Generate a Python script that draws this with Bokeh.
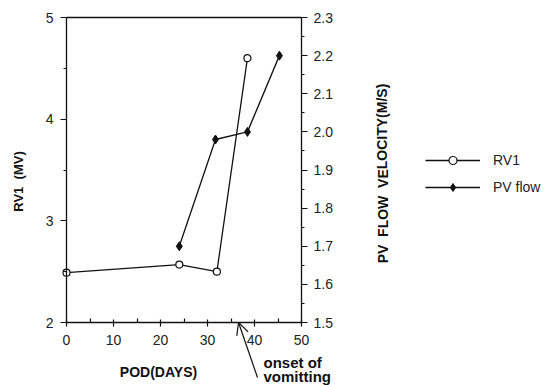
from bokeh.plotting import figure
from bokeh.models import (Range1d, LinearAxis, FixedTicker, Legend, LegendItem,
                          Label, Arrow, OpenHead)
from bokeh.embed import file_html
from bokeh.resources import INLINE

# ---- data ----
rv1_days = [0, 24, 32, 38.5]
rv1_values = [2.49, 2.57, 2.50, 4.60]
pv_days = [24, 31.7, 38.5, 45.3]
pv_values = [1.70, 1.98, 2.00, 2.20]
onset_day = 36.6

x_ticks = [0, 10, 20, 30, 40, 50]
x_minor = [5, 15, 25, 35, 45]
rv1_ticks = [2, 3, 4, 5]
rv1_minor = [2.5, 3.5, 4.5]
pv_ticks = [1.5, 1.6, 1.7, 1.8, 1.9, 2.0, 2.1, 2.2, 2.3]
pv_minor = [1.55, 1.65, 1.75, 1.85, 1.95, 2.05, 2.15, 2.25]

X_LIM = (0, 50)
RV1_LIM = (2, 5)
PV_LIM = (1.5, 2.3)

# ---- layout (canvas pixels) ----
W, H = 554, 385
FL, FR, FT, FB = 66, 301, 17, 322   # plot box edges


def expand(lo, hi, a, b, total):
    """data range whose [lo,hi] maps onto pixels [a,b] of a 0..total canvas"""
    per = (hi - lo) / (b - a)
    return Range1d(lo - a * per, hi + (total - b) * per)


xr = expand(X_LIM[0], X_LIM[1], FL, FR, W)
yr = expand(RV1_LIM[0], RV1_LIM[1], H - FB, H - FT, H)
pr = expand(PV_LIM[0], PV_LIM[1], H - FB, H - FT, H)

FONT = "Liberation Sans"
INK = "#111111"
NB = "\u00a0"

p = figure(width=W, height=H, output_backend="svg", toolbar_location=None,
           x_range=xr, y_range=yr, min_border=0,
           min_border_left=0, min_border_right=0, min_border_top=0,
           min_border_bottom=0)
p.extra_y_ranges = {"pv": pr}
p.grid.visible = False
p.outline_line_color = None
p.background_fill_color = "white"
p.border_fill_color = "white"

# x axis
xa = p.xaxis[0]
xa.fixed_location = RV1_LIM[0]
xa.bounds = X_LIM
xa.ticker = FixedTicker(ticks=x_ticks, minor_ticks=x_minor)
xa.major_tick_in = 3
xa.major_tick_out = 4
xa.minor_tick_in = 4
xa.minor_tick_out = 0
xa.major_label_standoff = 8

# left y axis
ya = p.yaxis[0]
ya.fixed_location = X_LIM[0]
ya.bounds = RV1_LIM
ya.ticker = FixedTicker(ticks=rv1_ticks, minor_ticks=rv1_minor)
ya.major_tick_in = 0
ya.major_tick_out = 6
ya.minor_tick_in = 0
ya.minor_tick_out = 3
ya.major_label_standoff = 7

# right y axis
ra = LinearAxis(y_range_name="pv", fixed_location=X_LIM[1], bounds=PV_LIM,
                ticker=FixedTicker(ticks=pv_ticks, minor_ticks=pv_minor))
ra.major_label_overrides = {t: f"{t:.1f}" for t in pv_ticks}
ra.major_tick_in = 0
ra.major_tick_out = 6
ra.minor_tick_in = 0
ra.minor_tick_out = 3
ra.major_label_standoff = 6
p.add_layout(ra, "right")

# top border of the box
ta = LinearAxis(fixed_location=RV1_LIM[1], bounds=X_LIM,
                ticker=FixedTicker(ticks=[]), major_tick_out=0, major_tick_in=0,
                minor_tick_out=0, minor_tick_in=0,
                major_label_text_font_size="0px")
p.add_layout(ta, "above")

for ax in (xa, ya, ra, ta):
    ax.axis_line_color = INK
    ax.axis_line_width = 1.3
    ax.major_tick_line_color = INK
    ax.minor_tick_line_color = INK
    ax.major_tick_line_width = 1.2
    ax.minor_tick_line_width = 1.2
    ax.major_label_text_font = FONT
    ax.major_label_text_color = "#222222"
for ax in (xa, ya, ra):
    ax.major_label_text_font_size = "14px"

# series
l1 = p.line(rv1_days, rv1_values, line_color=INK, line_width=1.3)
m1 = p.scatter(rv1_days, rv1_values, marker="circle", size=7,
               fill_color="white", line_color=INK, line_width=1.2)
l2 = p.line(pv_days, pv_values, y_range_name="pv", line_color=INK, line_width=1.3)
m2 = p.scatter(pv_days, pv_values, y_range_name="pv", marker="diamond", size=9,
               fill_color=INK, line_color=INK)

legend = Legend(items=[LegendItem(label="RV1", renderers=[l1, m1]),
                       LegendItem(label="PV flow", renderers=[l2, m2])],
                location=(425, H - 197), orientation="vertical",
                glyph_width=55, glyph_height=20, label_height=20, spacing=7,
                label_standoff=13, padding=0, margin=0,
                border_line_color=None, background_fill_alpha=0,
                label_text_font=FONT, label_text_font_size="14px",
                label_text_color="#222222")
p.add_layout(legend, "center")

# axis titles
bold = dict(text_font=FONT, text_font_style="bold", text_color=INK,
            x_units="screen", y_units="screen")
p.add_layout(Label(x=18, y=H - 181, text=f"RV1 {NB}(MV)", angle=1.5708,
                   text_align="center", text_baseline="middle",
                   text_font_size="13px", **bold))
p.add_layout(Label(x=382, y=H - 173,
                   text=f"PV {NB}FLOW {NB}VELOCITY(M/S)", angle=1.5708,
                   text_align="center", text_baseline="middle",
                   text_font_size="14px", **bold))
p.add_layout(Label(x=158, y=H - 371, text="POD(DAYS)",
                   text_align="center", text_baseline="middle",
                   text_font_size="14px", **bold))

# annotation
p.add_layout(Arrow(end=OpenHead(size=12, line_color=INK, line_width=1.2),
                   x_start=40.64, y_start=1.459, x_end=onset_day,
                   y_end=RV1_LIM[0], line_color=INK, line_width=1.2))
p.add_layout(Label(x=263, y=H - 362, text="onset of", text_align="left",
                   text_baseline="alphabetic", text_font_size="15px", **bold))
p.add_layout(Label(x=263, y=H - 376, text="vomitting", text_align="left",
                   text_baseline="alphabetic", text_font_size="15px", **bold))

open("out.html", "w").write(file_html(p, INLINE))
